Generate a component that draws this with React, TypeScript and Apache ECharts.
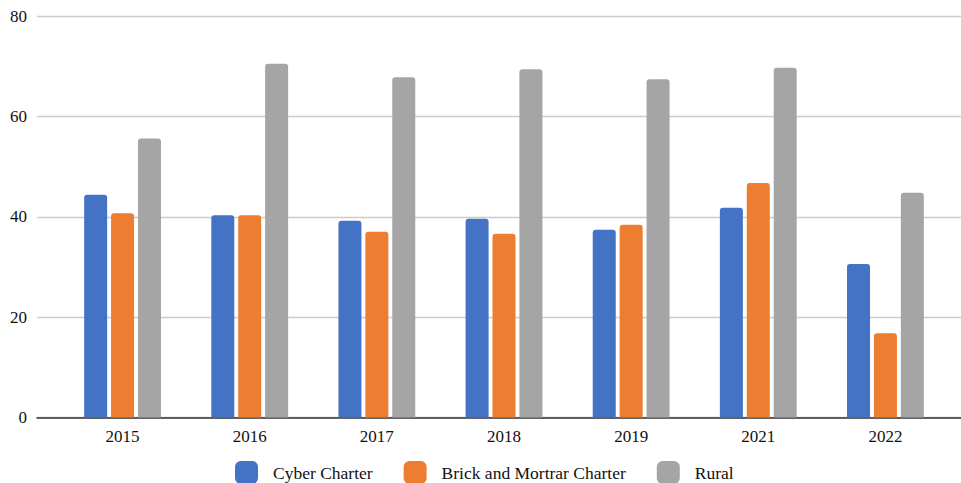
import React, { useEffect, useRef } from "react";
import * as echarts from "echarts";

const years = ["2015", "2016", "2017", "2018", "2019", "2021", "2022"];
const cyberCharter = [44.4, 40.3, 39.2, 39.6, 37.4, 41.8, 30.6];
const brickAndMortar = [40.7, 40.3, 37.0, 36.6, 38.4, 46.7, 16.8];
const rural = [55.6, 70.5, 67.8, 69.4, 67.4, 69.7, 44.8];
const yTicks = { min: 0, max: 80, interval: 20 };

const FONT = "Liberation Serif";
const TEXT_COLOR = "#111";

export default function App() {
  const ref = useRef<HTMLDivElement>(null);

  useEffect(() => {
    if (!ref.current) return;
    const chart = echarts.init(ref.current, null, { renderer: "svg" });
    const barStyle = (color: string) => ({
      color,
      borderRadius: [3, 3, 0, 0],
    });
    chart.setOption({
      animation: false,
      backgroundColor: "#ffffff",
      textStyle: { fontFamily: FONT },
      legend: {
        left: 235,
        top: 461,
        padding: 0,
        itemWidth: 23,
        itemHeight: 23,
        itemGap: 31,
        icon: "roundRect",
        textStyle: {
          fontFamily: FONT,
          fontSize: 17.5,
          color: TEXT_COLOR,
          padding: [0, 0, 0, 10],
        },
        data: ["Cyber Charter", "Brick and Mortrar Charter", "Rural"],
      },
      grid: [
        // full-width frame for gridlines and baseline
        { left: 37, right: 0, top: 16, bottom: 65.5, containLabel: false },
        // inner plotting band for bars
        { left: 59, right: 12, top: 16, bottom: 65.5, containLabel: false },
      ],
      xAxis: [
        {
          gridIndex: 0,
          type: "category",
          data: [""],
          axisLine: { show: true, lineStyle: { color: "#333", width: 1.5 } },
          axisTick: { show: false },
          axisLabel: { show: false },
        },
        {
          gridIndex: 1,
          type: "category",
          data: years,
          axisLine: { show: false },
          axisTick: { show: false },
          axisLabel: {
            fontFamily: FONT,
            fontSize: 17,
            color: TEXT_COLOR,
            margin: 10,
          },
        },
      ],
      yAxis: [
        {
          gridIndex: 0,
          type: "value",
          ...yTicks,
          axisLine: { show: false },
          axisTick: { show: false },
          axisLabel: {
            fontFamily: FONT,
            fontSize: 17,
            color: TEXT_COLOR,
            margin: 10,
          },
          splitLine: { show: true, lineStyle: { color: "#cccccc", width: 1.3 } },
        },
        {
          gridIndex: 1,
          type: "value",
          ...yTicks,
          show: false,
          splitLine: { show: false },
        },
      ],
      series: [
        {
          name: "Cyber Charter",
          type: "bar",
          xAxisIndex: 1,
          yAxisIndex: 1,
          data: cyberCharter,
          barWidth: 23,
          barGap: "17%",
          itemStyle: barStyle("#4472C4"),
        },
        {
          name: "Brick and Mortrar Charter",
          type: "bar",
          xAxisIndex: 1,
          yAxisIndex: 1,
          data: brickAndMortar,
          barWidth: 23,
          barGap: "17%",
          itemStyle: barStyle("#ED7D31"),
        },
        {
          name: "Rural",
          type: "bar",
          xAxisIndex: 1,
          yAxisIndex: 1,
          data: rural,
          barWidth: 23,
          barGap: "17%",
          itemStyle: barStyle("#A5A5A5"),
        },
      ],
    });
    return () => chart.dispose();
  }, []);

  return (
    <div
      ref={ref}
      style={{ width: 961, height: 483, position: "absolute", left: 0, top: 0 }}
    />
  );
}
